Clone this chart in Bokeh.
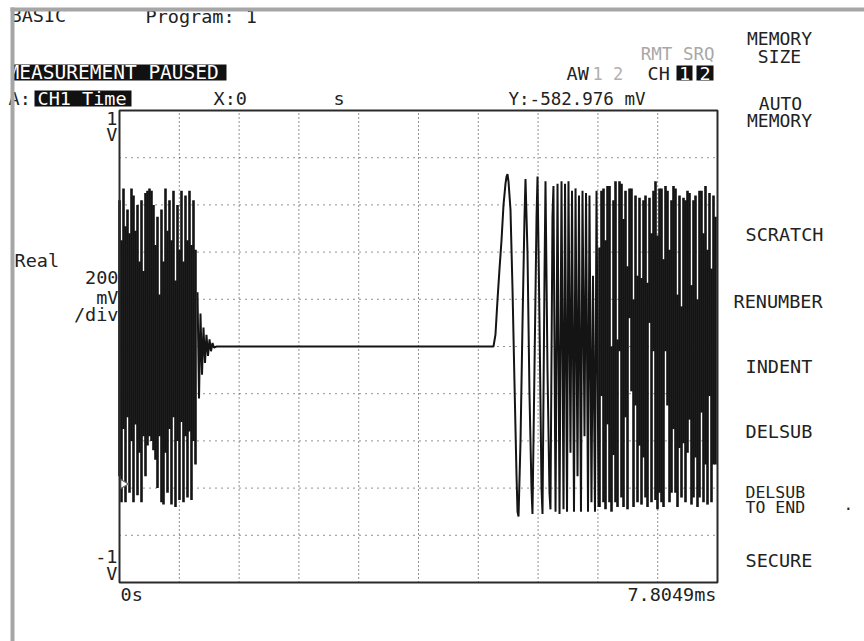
from bokeh.plotting import figure
from bokeh.models import Range1d, Label, BoxAnnotation
from bokeh.embed import file_html
from bokeh.resources import INLINE
import numpy as np

# ------------------------------------------------------------------ data
time_span_ms = 7.8049          # full record length shown (0 s .. 7.8049 ms)
v_bottom, v_top = -1.0, 1.0    # 200 mV/div, 10 divisions

x_div_ticks = [0.7805, 1.561, 2.3415, 3.122, 3.9025, 4.683, 5.4634, 6.2439, 7.0244]
y_div_ticks = [-0.8, -0.6, -0.4, -0.2, 0.0, 0.2, 0.4, 0.6, 0.8]

column_dt_ms = 0.0261          # one display column of the min/max trace

# first burst, min/max per display column (V)
burst_start_ms = 0.0
burst_top = [0.62, 0.45, 0.67, 0.51, 0.58, 0.48, 0.67, 0.64, 0.49, 0.60,
             0.36, 0.62, 0.32, 0.65, 0.66, 0.67, 0.66, 0.60, 0.43, 0.55,
             0.22, 0.58, 0.36, 0.67, 0.49, 0.62, 0.45, 0.66, 0.28, 0.60,
             0.41, 0.66, 0.36, 0.64, 0.45, 0.66, 0.43, 0.62, 0.41]
burst_bot = [-0.55, -0.66, -0.35, -0.66, -0.30, -0.62, -0.40, -0.66, -0.33, -0.63,
             -0.45, -0.66, -0.38, -0.55, -0.42, -0.38, -0.40, -0.44, -0.48, -0.60,
             -0.38, -0.66, -0.67, -0.45, -0.62, -0.35, -0.67, -0.30, -0.68, -0.40,
             -0.65, -0.32, -0.66, -0.38, -0.64, -0.36, -0.65, -0.40, -0.50]

# decay tail, flat section, rise and first chirp cycles (ms, V)
trace_t = [1.018, 1.038, 1.057, 1.077, 1.096, 1.116, 1.135, 1.155, 1.175, 1.194,
           1.214, 1.233, 1.266,
           4.881, 4.907, 4.934, 4.960, 4.986, 5.012, 5.038, 5.051, 5.064, 5.077,
           5.103, 5.129, 5.155, 5.182, 5.195, 5.208, 5.234, 5.260, 5.286, 5.299,
           5.325, 5.351, 5.377, 5.390, 5.416, 5.443, 5.456, 5.482, 5.508, 5.521,
           5.547, 5.560, 5.586, 5.612, 5.625, 5.651, 5.664, 5.691, 5.717, 5.743,
           5.769, 5.795, 5.815, 5.841, 5.860, 5.886, 5.906, 5.932, 5.952, 5.978,
           5.997, 6.023, 6.043, 6.069, 6.089, 6.115, 6.134, 6.160, 6.180, 6.206,
           6.226, 6.252]
trace_v = [0.23, -0.22, 0.14, -0.12, 0.08, -0.07, 0.05, -0.04, 0.03, -0.02,
           0.015, -0.005, 0.0,
           0.0, 0.05, 0.20, 0.33, 0.45, 0.60, 0.69, 0.72, 0.73, 0.70,
           0.58, 0.25, -0.15, -0.55, -0.70, -0.72, -0.40, 0.10, 0.55, 0.71,
           0.40, -0.20, -0.60, -0.71, -0.10, 0.55, 0.72, 0.10, -0.60, -0.71,
           0.30, 0.70, -0.10, -0.62, -0.69, 0.55, 0.68, -0.70, 0.69, -0.71,
           0.70, -0.69, 0.69, -0.70, 0.70, -0.45, 0.66, -0.70, 0.67, -0.55,
           0.64, -0.70, 0.66, -0.38, 0.65, -0.70, 0.64, -0.66, 0.30, -0.70,
           0.66, -0.68]

# dense end of the chirp, min/max per display column (V)
dense_start_ms = 6.265
dense_top = [0.42, 0.66, 0.67, 0.45, 0.68, 0.68, 0.00, 0.62, 0.70, 0.03,
             0.70, 0.69, 0.54, 0.66, 0.34, 0.67, 0.67, 0.20, 0.64, 0.30,
             0.63, 0.29, 0.62, 0.64, 0.27, 0.63, 0.48, 0.66, 0.70, 0.47,
             0.67, 0.67, 0.37, 0.68, 0.66, 0.41, 0.62, 0.68, 0.67, 0.22,
             0.64, 0.17, 0.63, 0.62, 0.66, 0.65, 0.26, 0.62, 0.64, 0.20,
             0.66, 0.66, 0.48, 0.68, 0.41, 0.65, 0.33, 0.64, 0.55]
dense_bot = [-0.68, -0.21, -0.66, -0.69, -0.33, -0.66, -0.70, -0.46, -0.66, -0.68,
             -0.02, -0.64, -0.68, -0.30, -0.69, 0.12, -0.19, -0.68, -0.25, -0.66,
             -0.42, -0.67, -0.47, -0.64, -0.68, 0.10, -0.66, -0.02, -0.65, -0.69,
             -0.62, -0.66, -0.68, -0.02, -0.25, -0.66, -0.62, -0.35, -0.62, -0.68,
             -0.43, -0.64, -0.41, -0.66, -0.45, -0.31, -0.67, -0.64, -0.47, -0.68,
             -0.64, -0.28, -0.66, -0.50, -0.67, -0.21, -0.66, -0.50, -0.50]

marker_level_v = -0.582976     # Y marker readout
marker_t_ms = 0.05

# ------------------------------------------------------------------ figure
W, H = 864, 641
FL, FR, FT, FB = 119, 717, 110, 582   # graticule edges in the picture

# default ranges: screen pixels (y downwards) for the instrument's texts
p = figure(width=W, height=H, output_backend="svg", toolbar_location=None,
           title=None, x_axis_location=None, y_axis_location=None,
           x_range=Range1d(0, W), y_range=Range1d(H, 0),
           min_border=0)
p.xgrid.visible = False
p.ygrid.visible = False
p.background_fill_color = "white"
p.border_fill_color = "white"
p.outline_line_color = None

# measurement ranges: time (ms) and volts mapped onto the graticule
ms_per_px = time_span_ms / (FR - FL)
v_per_px = (v_top - v_bottom) / (FB - FT)
p.extra_x_ranges = {"t": Range1d(-FL * ms_per_px, (W - FL) * ms_per_px)}
p.extra_y_ranges = {"v": Range1d(v_top - (H - FT) * v_per_px, v_top + FT * v_per_px)}
TV = dict(x_range_name="t", y_range_name="v")

grid_col = "#262626"
n_x, n_y = len(x_div_ticks), len(y_div_ticks)
p.segment(x0=x_div_ticks, x1=x_div_ticks, y0=[v_bottom] * n_x, y1=[v_top] * n_x,
          line_color=grid_col, line_dash="1 3", line_width=1, **TV)
p.segment(x0=[0.0] * n_y, x1=[time_span_ms] * n_y, y0=y_div_ticks, y1=y_div_ticks,
          line_color=grid_col, line_dash="1 5", line_width=1, **TV)

ink = "#141414"
burst_x = burst_start_ms + column_dt_ms * np.arange(len(burst_top))
dense_x = dense_start_ms + column_dt_ms * np.arange(len(dense_top))
p.vbar(x=burst_x, top=burst_top, bottom=burst_bot, width=column_dt_ms * 1.3,
       fill_color=ink, line_color=None, **TV)
p.vbar(x=dense_x, top=dense_top, bottom=dense_bot, width=column_dt_ms * 1.3,
       fill_color=ink, line_color=None, **TV)
p.line(trace_t, trace_v, line_color=ink, line_width=2, **TV)
p.scatter([marker_t_ms], [marker_level_v], marker="triangle", angle=-np.pi / 2,
          size=9, fill_color="white", line_color="#666666", line_width=1.2, **TV)

# graticule border
p.quad(left=[0.0], right=[time_span_ms], bottom=[v_bottom], top=[v_top],
       fill_color=None, line_color="#2a2a2a", line_width=2, **TV)

# ------------------------------------------------------------------ texts
FONT = "DejaVu Sans Mono"
TXT = "#222222"

def lab(px, py, text, size=18.5, align="left", color=TXT):
    p.add_layout(Label(x=px, y=py, text=text, text_font=FONT,
                       text_font_size=f"{size}px", text_align=align,
                       text_baseline="middle", text_color=color))

def box(x0, x1, y0, y1, color="#111111", level="underlay"):
    p.add_layout(BoxAnnotation(left=x0, right=x1, top=y0, bottom=y1,
                               fill_color=color, fill_alpha=1.0, line_color=None,
                               level=level))

lab(10, 15, "BASIC")
lab(145, 16, "Program: 1")

box(11, 226, 64, 80)
lab(7, 72, "MEASUREMENT PAUSED", size=19.5, color="white")
lab(8, 98, "A:")
box(34, 131, 90, 106)
lab(37, 98, "CH1 Time", color="white")
lab(213, 98, "X:0")
lab(333, 98, "s")
lab(645, 98, "Y:-582.976 mV", size=17.5, align="right")

lab(714, 53, "RMT SRQ", size=17.5, align="right", color="#a8a8a8")
lab(566, 73, "AW")
lab(592, 73, "1 2", size=17, color="#b0b0b0")
lab(647, 73, "CH")
box(676, 692, 65, 80)
box(696, 713, 65, 80)
lab(684, 73, "1", align="center", color="white")
lab(704.5, 73, "2", align="center", color="white")

# vertical scale annotations
lab(117, 118, "1", align="right")
lab(117, 134, "V", align="right")
lab(14, 260, "Real")
lab(118, 277, "200", align="right")
lab(118, 297, "mV", align="right")
lab(118, 314, "/div", align="right")
lab(117, 556, "-1", align="right")
lab(117, 573, "V", align="right")
lab(120, 594, "0s")
lab(716, 594, "7.8049ms", align="right")

# softkey labels
lab(779, 38, "MEMORY", size=18, align="center")
lab(779, 56, "SIZE", size=18, align="center")
lab(780, 103, "AUTO", size=18, align="center")
lab(779, 120, "MEMORY", size=18, align="center")
lab(745, 234, "SCRATCH")
lab(733, 301, "RENUMBER")
lab(745, 366, "INDENT")
lab(745, 431, "DELSUB")
lab(745, 492, "DELSUB", size=16.5)
lab(745, 507, "TO END", size=16.5)
lab(745, 560, "SECURE")
lab(843, 508, "·", size=16)

# screenshot frame (drawn on top)
box(10, 14, 7, H, "#a6a6a6", "overlay")
box(10, W, 7, 11, "#a6a6a6", "overlay")

open("out.html", "w").write(file_html(p, INLINE))
